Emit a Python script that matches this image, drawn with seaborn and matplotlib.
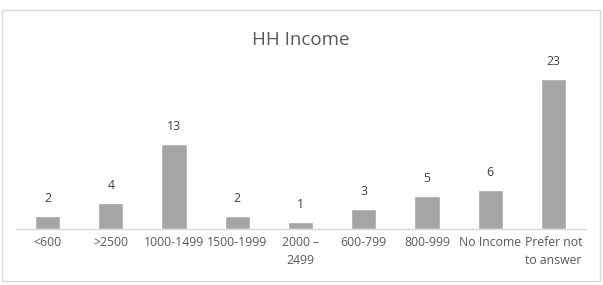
import matplotlib
matplotlib.use("Agg")
import matplotlib.pyplot as plt
import seaborn as sns
import pandas as pd
from matplotlib.patches import Rectangle

categories = ["<600", ">2500", "1000-1499", "1500-1999", "2000 –\n2499", "600-799",
              "800-999", "No Income", "Prefer not\nto answer"]
counts = [2, 4, 13, 2, 1, 3, 5, 6, 23]
title = "HH Income"

sns.set_theme(style="white")
plt.rcParams['font.family'] = ['Open Sans', 'DejaVu Sans']

df = pd.DataFrame({"cat": categories, "n": counts})

fig = plt.figure(figsize=(6.03, 2.85), dpi=100)
ax = fig.add_axes([16/603, 56/285, 569/603, (229-66)/285])
sns.barplot(data=df, x="cat", y="n", color="#A5A5A5", saturation=1, width=0.4, ax=ax)
ax.set_ylim(0, 25)
ax.set_xlim(-0.5, len(categories)-0.5)
ax.set_yticks([])
ax.set_xlabel("")
ax.set_ylabel("")
for s in ["left", "right", "top"]:
    ax.spines[s].set_visible(False)
ax.spines["bottom"].set_color("#D9D9D9")
ax.spines["bottom"].set_linewidth(1.0)
ax.tick_params(axis="x", length=0, pad=5, labelsize=8.8, labelcolor="#595959")
for lbl in ax.get_xticklabels():
    lbl.set_linespacing(1.5)
for c in ax.containers:
    ax.bar_label(c, padding=8, fontsize=8.8, color="#404040")

fig.text(301/603, 1 - 40/285, title, ha="center", va="center", fontsize=13.5, color="#595959")
fig.patches.append(Rectangle((2/603, 4/285), 598/603, 1 - 14/285, transform=fig.transFigure,
                             fill=False, edgecolor="#D9D9D9", linewidth=1))
fig.savefig("out.png", dpi=100)
